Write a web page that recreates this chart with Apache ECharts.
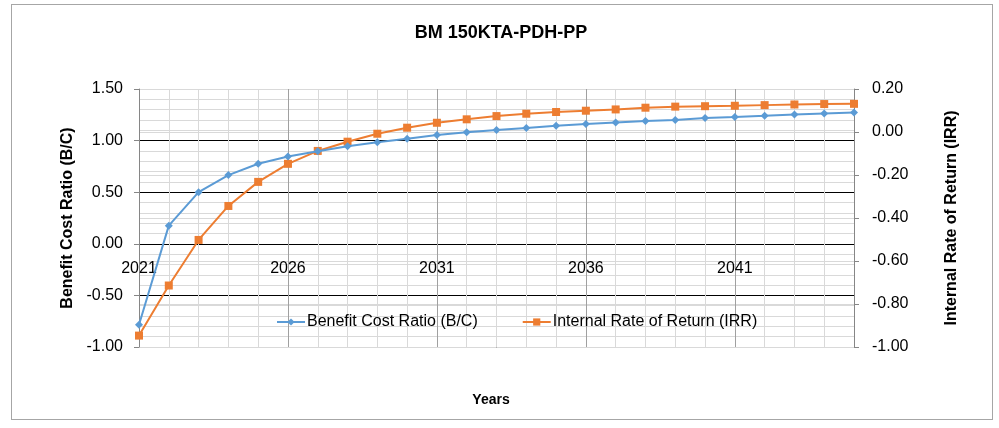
<!DOCTYPE html>
<html>
<head>
<meta charset="utf-8">
<script src="https://cdn.jsdelivr.net/npm/echarts@6/dist/echarts.min.js"></script>
<style>
  html, body { margin: 0; padding: 0; background: #fff; }
  #chart { position: absolute; left: 11px; top: 4px; width: 982px; height: 416px; border: 1px solid #a6a6a6; box-sizing: border-box; }
</style>
</head>
<body>
<div id="chart"></div>
<script>
// years on the x axis
const years = ['2021', '2022', '2023', '2024', '2025', '2026', '2027', '2028', '2029', '2030',
  '2031', '2032', '2033', '2034', '2035', '2036', '2037', '2038', '2039', '2040',
  '2041', '2042', '2043', '2044', '2045'];

// Benefit Cost Ratio (left axis)
const bcRatio = [-0.785, 0.176, 0.50, 0.666, 0.776, 0.846, 0.897, 0.945, 0.984, 1.019,
  1.054, 1.080, 1.103, 1.122, 1.144, 1.160, 1.175, 1.189, 1.200, 1.218,
  1.228, 1.240, 1.253, 1.263, 1.272];

// Internal Rate of Return (right axis)
const irr = [-0.947, -0.714, -0.502, -0.344, -0.232, -0.148, -0.088, -0.045, -0.008, 0.020,
  0.043, 0.059, 0.074, 0.085, 0.093, 0.099, 0.105, 0.113, 0.118, 0.120,
  0.122, 0.125, 0.128, 0.130, 0.131];

const FONT = 'Liberation Sans';

const chart = echarts.init(document.getElementById('chart'));

const option = {
  animation: false,
  textStyle: { fontFamily: FONT },
  title: [
    {
      text: 'BM 150KTA-PDH-PP',
      left: 484, top: 14, textAlign: 'center',
      textStyle: { fontFamily: FONT, fontSize: 18, fontWeight: 'bold', color: '#000' }
    },
    {
      text: 'Years',
      left: 474, top: 383, textAlign: 'center',
      textStyle: { fontFamily: FONT, fontSize: 14, fontWeight: 'bold', color: '#000' }
    }
  ],
  legend: {
    left: 259, top: 304,
    itemWidth: 28, itemHeight: 9, itemGap: 44,
    textStyle: { fontFamily: FONT, fontSize: 16, color: '#000', padding: [0, 0, 0, -3] },
    data: ['Benefit Cost Ratio (B/C)', 'Internal Rate of Return (IRR)']
  },
  grid: { left: 127, right: 138, top: 84, bottom: 72 },
  xAxis: [
    {
      type: 'category',
      data: years,
      boundaryGap: false,
      position: 'bottom',
      axisLine: { show: false },
      axisTick: { show: false },
      // labels sit just under the 0.00 line, as in the original
      axisLabel: { interval: 4, margin: -86, fontSize: 16, color: '#000' },
      splitLine: { show: true, interval: 0, lineStyle: { color: '#d9d9d9', width: 1 } }
    },
    {
      // second category axis only for the darker vertical lines every 5 years
      type: 'category',
      data: years,
      boundaryGap: false,
      position: 'top',
      axisLine: { show: false },
      axisTick: { show: false },
      axisLabel: { show: false },
      splitLine: { show: true, interval: 4, lineStyle: { color: '#a0a0a0', width: 1 } }
    }
  ],
  yAxis: [
    {
      type: 'value',
      min: -1, max: 1.5, interval: 0.5,
      name: 'Benefit Cost Ratio (B/C)',
      nameLocation: 'middle', nameGap: 57,
      nameTextStyle: { fontFamily: FONT, fontSize: 16, fontWeight: 'bold', color: '#000' },
      axisLine: { show: true, lineStyle: { color: '#868686' } },
      axisTick: { show: true, length: 5, lineStyle: { color: '#868686' } },
      axisLabel: { fontSize: 16, color: '#000', margin: 16, formatter: v => v.toFixed(2) },
      splitLine: { show: true, lineStyle: { color: '#000', width: 1 } },
      minorTick: { show: false, splitNumber: 5 },
      minorSplitLine: { show: true, lineStyle: { color: '#d9d9d9', width: 1 } }
    },
    {
      type: 'value',
      min: -1, max: 0.2, interval: 0.2,
      name: 'Internal Rate of Return (IRR)',
      nameLocation: 'middle', nameGap: 90, nameRotate: 90,
      nameTextStyle: { fontFamily: FONT, fontSize: 16, fontWeight: 'bold', color: '#000' },
      axisLine: { show: true, lineStyle: { color: '#868686' } },
      axisTick: { show: true, length: 5, lineStyle: { color: '#868686' } },
      axisLabel: { fontSize: 16, color: '#000', margin: 18, formatter: v => v.toFixed(2) },
      splitLine: { show: true, lineStyle: { color: '#d9d9d9', width: 1 } }
    }
  ],
  series: [
    {
      name: 'Benefit Cost Ratio (B/C)',
      type: 'line',
      xAxisIndex: 0,
      yAxisIndex: 0,
      data: bcRatio,
      symbol: 'diamond',
      symbolSize: 8,
      lineStyle: { color: '#5B9BD5', width: 2 },
      itemStyle: { color: '#5B9BD5' },
      z: 3
    },
    {
      name: 'Internal Rate of Return (IRR)',
      type: 'line',
      xAxisIndex: 0,
      yAxisIndex: 1,
      data: irr,
      symbol: 'rect',
      symbolSize: 8,
      lineStyle: { color: '#ED7D31', width: 2 },
      itemStyle: { color: '#ED7D31' },
      z: 2
    }
  ]
};

chart.setOption(option);
</script>
</body>
</html>
